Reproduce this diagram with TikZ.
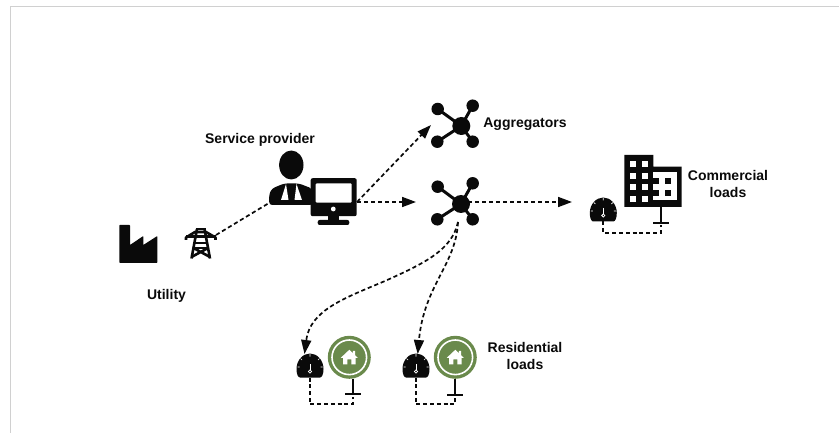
\documentclass[tikz,border=0pt]{standalone}
\usepackage{fontspec}
\setmainfont{Liberation Sans}
\usetikzlibrary{arrows.meta}
\definecolor{homegreen}{HTML}{6A8A4C}
\definecolor{ink}{HTML}{0A0A0A}
\definecolor{framegray}{HTML}{D0D0D0}
\tikzset{
  x=1pt,y=-1pt,
  lab/.style={font=\bfseries\fontsize{14}{17}\selectfont,align=center,text=ink,inner sep=0pt},
  link/.style={line width=1.7pt,dash pattern=on 4.2pt off 2.8pt,draw=ink},
  linka/.style={link,-{Triangle[length=14pt,width=10pt,sep=0pt]}},
  wire/.style={line width=1.7pt,dash pattern=on 4pt off 2.8pt,draw=ink},
  sat/.style={circle,fill=ink,minimum size=12.5pt,inner sep=0pt},
  hubc/.style={circle,fill=ink,minimum size=18pt,inner sep=0pt},
  spoke/.style={line width=3pt,draw=ink},
  gnd/.style={line width=1.7pt,draw=ink},
  pics/meter/.style={code={
    \fill[ink] (-10,11.5) .. controls (-12,11.5) and (-13.5,8) .. (-13.5,3) .. controls (-13.5,-6) and (-7,-12.5) .. (0,-12.5) .. controls (7,-12.5) and (13.5,-6) .. (13.5,3) .. controls (13.5,8) and (12,11.5) .. (10,11.5) -- cycle;
    \draw[white,line width=.8pt] (0,-2) -- (0,4);
    \draw[white,line width=.8pt] (0,5.5) circle (1.6);
    \draw[white,line width=.7pt] (0,-12) -- (0,-9.5) (-9.5,-7.5) -- (-8,-6) (9.5,-7.5) -- (8,-6) (-12.5,1) -- (-10.5,1) (12.5,1) -- (10.5,1);
  }},
  pics/homeicon/.style={code={
    \fill[homegreen] (0,0) circle (21.5);
    \draw[white,line width=1.6pt] (0,0) circle (17.3);
    \fill[white] (-8.5,0.5) -- (0,-7.5) -- (3.5,-4.2) -- (3.5,-6.5) -- (5.8,-6.5) -- (5.8,-2) -- (8.5,0.5) -- (6.3,0.5) -- (6.3,7) -- (2,7) -- (2,2) -- (-2,2) -- (-2,7) -- (-6.3,7) -- (-6.3,0.5) -- cycle;
  }}
}
\begin{document}
\begin{tikzpicture}
\useasboundingbox (0,0) rectangle (839,433);
% frame
\draw[framegray,line width=1pt] (10.5,433) -- (10.5,6.5) -- (839,6.5);

% factory
\fill[ink,rounded corners=.6pt] (119.3,225) -- (130,225) -- (130,245) -- (143.3,236) -- (143.3,245) -- (157.3,236) -- (157.3,262.8) -- (119.3,262.8) -- cycle;

% pylon
\begin{scope}[ink,line width=2.6pt,line join=round]
  \draw (196,229) -- (205.5,229);
  \draw (186,240) -- (186,237.5) -- (195,232) -- (206,232) -- (215.5,237.5) -- (215.5,240);
  \draw (186,236.8) -- (215.5,236.8);
  \draw (197,229) -- (191.5,258.5) (204.5,229) -- (210,258.5);
  \draw (194.5,243) -- (207,243);
  \draw (193.5,248) -- (208,248);
  \draw (193.5,248) -- (210,257) (208,248) -- (191.5,257);
\end{scope}
\coordinate (pylon) at (216,235);

% person
\fill[ink] (291.3,165) ellipse [x radius=12.2,y radius=14.5];
\fill[ink,rounded corners=3pt] (269.2,205) -- (269.2,194) -- (272,188.5) -- (284,183.5) -- (299,183.5) -- (312,188.5) -- (313,205) -- cycle;
\fill[white] (286,184) -- (288.5,200) -- (281,200) -- cycle;
\fill[white] (296.5,184) -- (302,200) -- (294.5,200) -- cycle;
\coordinate (person) at (269,203);

% monitor
\node[fill=ink,rounded corners=2pt,minimum width=46pt,minimum height=38pt,inner sep=0pt] (monitor) at (333.7,197.2) {};
\fill[white,rounded corners=1pt] (315.7,183.3) rectangle (351.7,202.7);
\fill[white] (333.3,209) circle (2.4);
\fill[ink] (328,215) rectangle (338.5,221);
\fill[ink,rounded corners=2pt] (317.7,220) rectangle (349.3,225);
\coordinate (monA) at (357,202);

% hubs
\node[hubc] (hubA) at (461.3,126) {};
\node[sat] (a1) at (437.7,109) {};
\node[sat] (a2) at (472.7,105.7) {};
\node[sat] (a3) at (437.3,141.7) {};
\node[sat] (a4) at (472.7,141.7) {};
\draw[spoke] (hubA.center) -- (a1.center) (hubA.center) -- (a2.center) (hubA.center) -- (a3.center) (hubA.center) -- (a4.center);
\node[hubc] (hubB) at (461,204) {};
\node[sat] (b1) at (437.7,186.7) {};
\node[sat] (b2) at (472.7,183.3) {};
\node[sat] (b3) at (437.3,219.3) {};
\node[sat] (b4) at (472.7,219.3) {};
\draw[spoke] (hubB.center) -- (b1.center) (hubB.center) -- (b2.center) (hubB.center) -- (b3.center) (hubB.center) -- (b4.center);

% building
\fill[ink] (624.3,155) rectangle (653.3,207) (653,166.7) rectangle (681.7,207);
\fill[white] (653.3,172.3) rectangle (676.7,200);
\foreach \yy in {161,172.7,184.3,195.7}{
  \fill[white] (630,\yy) rectangle +(6,6);
  \fill[white] (641.7,\yy) rectangle +(6,6);
}
\foreach \yy in {178.3,190}{
  \fill[ink] (653.3,\yy) rectangle +(5.7,5.7);
  \fill[ink] (665,\yy) rectangle +(5.7,5.7);
}
\coordinate (building) at (660.7,206);
\coordinate (gndC) at (660.7,222.7);
\draw[gnd] (building) -- (gndC) (653,222.7) -- (669,222.7);

% meters
\pic at (603.3,210) {meter};
\coordinate (meterC) at (603.3,221.5);
\pic at (310,366) {meter};
\coordinate (meterR) at (310,377.5);
\coordinate (meterRt) at (304.5,354);
\pic at (416,366) {meter};
\coordinate (meterS) at (416,377.5);
\coordinate (meterSt) at (417.7,354);

% homes
\pic at (349.3,357.3) {homeicon};
\pic at (455.3,357.3) {homeicon};
\coordinate (homeR) at (352.7,378.8);
\coordinate (homeS) at (455.3,378.8);
\coordinate (gndR) at (352.7,394.3);
\coordinate (gndS) at (455.3,395);
\draw[gnd] (homeR) -- (gndR) (345,394.3) -- (360.5,394.3);
\draw[gnd] (homeS) -- (gndS) (447.3,395) -- (462.7,395);

% connectors
\draw[link] (pylon) -- (person);
\draw[linka] (monA) -- (431,125);
\draw[linka] (monA) -- (416,202);
\draw[linka] (hubB |- monA) -- (572,202);
\draw[linka] (458,222) .. controls (452,250) and (425,263) .. (385,281) .. controls (345,298) and (310,310) .. (meterRt);
\draw[linka] (458,222) .. controls (456,265) and (424,285) .. (meterSt);
\draw[wire] (meterC) -- (603.3,233) -- (660.7,233) -- (660.7,225);
\draw[wire] (meterR) -- (310,404.3) -- (352.7,404.3) -- (352.7,397);
\draw[wire] (meterS) -- (416,404.3) -- (455.3,404.3) -- (455.3,397.5);

% labels
\node[lab] (tSP) at (260,139.5) {Service provider};
\node[lab] (tUt) at (166.5,295.5) {Utility};
\node[lab] (tAg) at (525,124) {Aggregators};
\node[lab] (tCo) at (728,184) {Commercial\\loads};
\node[lab] (tRe) at (525,355.5) {Residential\\loads};
\end{tikzpicture}
\end{document}
